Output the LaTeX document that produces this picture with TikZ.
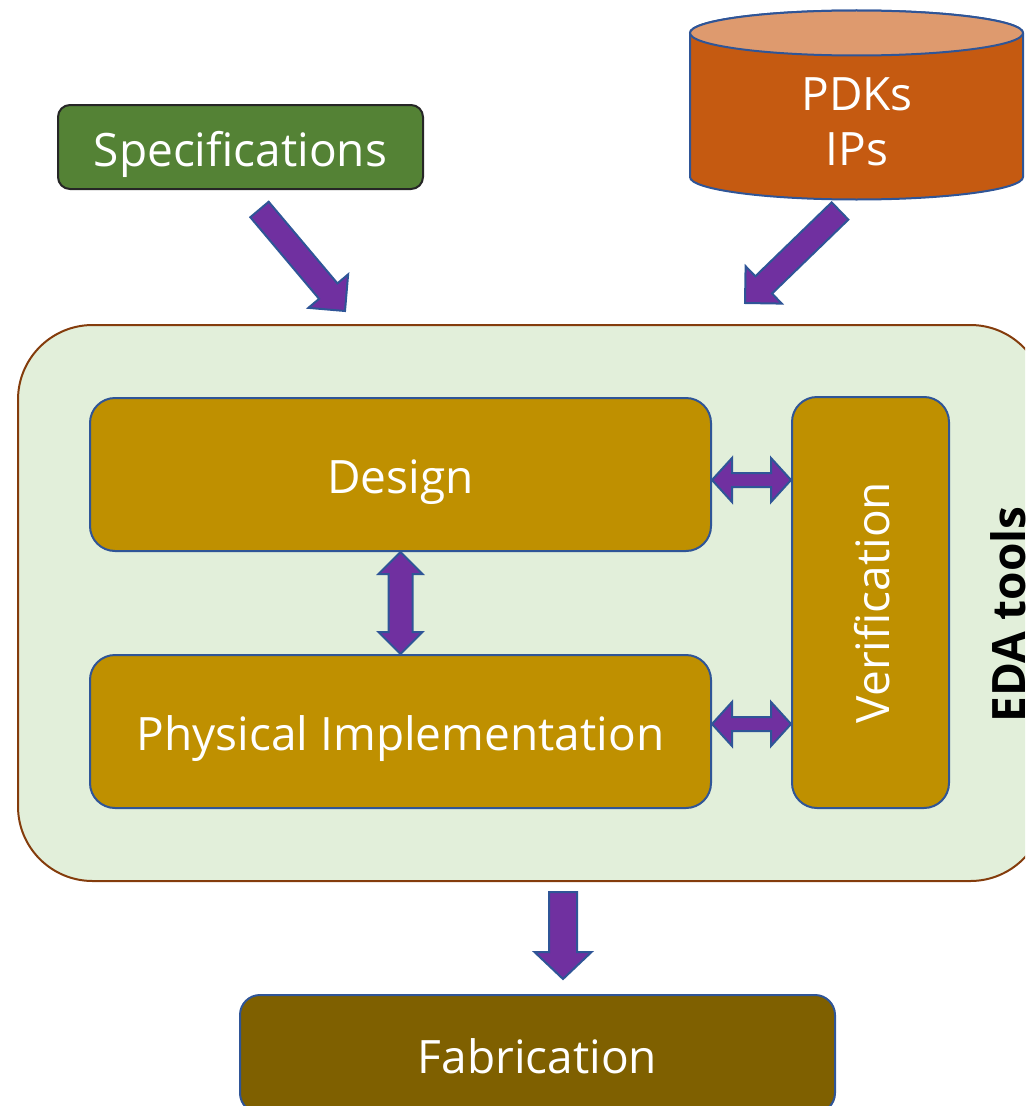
\documentclass[tikz,border=0pt]{standalone}
\usepackage{fontspec}
\setmainfont{Open Sans}
\usetikzlibrary{calc}
\definecolor{specgreen}{HTML}{548235}
\definecolor{pdkbody}{HTML}{C55A11}
\definecolor{pdktop}{HTML}{DE9A6E}
\definecolor{goldfill}{HTML}{BF9000}
\definecolor{fabfill}{HTML}{7F6000}
\definecolor{edabg}{HTML}{E2EFDA}
\definecolor{edaborder}{HTML}{843C0C}
\definecolor{arrowpurple}{HTML}{7030A0}
\definecolor{shapeblue}{HTML}{2F5597}

% single block arrow: tail, tip, half shaft, half head, head length
\newcommand\blkarrow[5]{%
  \coordinate (ba-h) at ($(#2)!#5!(#1)$);
  \draw[blockarrow] ($(#1)!#3!90:(#2)$) -- ($(ba-h)!#3!90:(#2)$) -- ($(ba-h)!#4!90:(#2)$) -- (#2)
    -- ($(ba-h)!#4!-90:(#2)$) -- ($(ba-h)!#3!-90:(#2)$) -- ($(#1)!#3!-90:(#2)$) -- cycle;}
% double block arrow: end A, end B, half shaft, half head, head length
\newcommand\dblarrow[5]{%
  \coordinate (da-a) at ($(#1)!#5!(#2)$);
  \coordinate (da-b) at ($(#2)!#5!(#1)$);
  \draw[blockarrow] (#1) -- ($(da-a)!#4!90:(#2)$) -- ($(da-a)!#3!90:(#2)$) -- ($(da-b)!#3!90:(#2)$)
    -- ($(da-b)!#4!90:(#2)$) -- (#2) -- ($(da-b)!#4!-90:(#2)$) -- ($(da-b)!#3!-90:(#2)$)
    -- ($(da-a)!#3!-90:(#2)$) -- ($(da-a)!#4!-90:(#2)$) -- cycle;}

\tikzset{
  txt/.style={text=white, font=\fontsize{34.5}{41.4}\selectfont, text height=29pt, text depth=0pt, inner sep=0pt},
  rbox/.style={txt, draw=shapeblue, line width=1.5pt, rounded corners=18.75pt},
  specbox/.style={txt, draw=black!85, fill=specgreen, line width=1.5pt, rounded corners=9pt},
  goldbox/.style={rbox, fill=goldfill},
  fabbox/.style={rbox, fill=fabfill, rounded corners=15pt},
  edabox/.style={draw=edaborder, fill=edabg, line width=1.5pt, rounded corners=56pt, inner sep=0pt},
  blockarrow/.style={fill=arrowpurple, draw=shapeblue, line width=1.5pt, line join=miter},
}

\begin{document}
\begin{tikzpicture}[x=0.75pt,y=-0.75pt]
\useasboundingbox (0,0) rectangle (1025,1106);
\clip (0,0) rectangle (1025,1106);

% EDA environment
\node[edabox, minimum width=1027*0.75pt, minimum height=556*0.75pt] (eda) at (531.5,603) {};
\node[rotate=90, anchor=base, font=\fontsize{34.5}{41.4}\selectfont\bfseries, text=black, inner sep=0pt] (edalabel) at (1025.5,614.5) {EDA tools};

% inputs
\node[specbox, minimum width=365*0.75pt, minimum height=84*0.75pt] (spec) at (240.5,147) {Specifications};

\path[draw=shapeblue, fill=pdkbody, line width=1.5pt]
  (690,33) -- (690,177) arc[start angle=180, end angle=360, x radius=124.875pt, y radius=16.875pt]
  -- (1023,33) arc[start angle=0, end angle=180, x radius=124.875pt, y radius=16.875pt] -- cycle;
\draw[fill=pdktop, draw=shapeblue, line width=1.5pt] (856.5,33) ellipse [x radius=124.875pt, y radius=16.875pt];
\node[text=white, font=\fontsize{34.5}{41.4}\selectfont, align=center, inner sep=0pt] (pdk) at (857,122) {PDKs\\IPs};

% inner blocks
\node[goldbox, minimum width=621*0.75pt, minimum height=153*0.75pt] (design) at (400.5,474.5) {Design};
\node[goldbox, minimum width=621*0.75pt, minimum height=153*0.75pt] (phys) at (400.5,731.5) {Physical Implementation};
\node[goldbox, minimum width=157*0.75pt, minimum height=411*0.75pt] (verif) at (870.5,602.5) {};
\node[txt, rotate=90] (veriflabel) at (verif.center) {Verification};

% output
\node[fabbox, minimum width=595*0.75pt, minimum height=118*0.75pt] (fab) at (537.5,1054) {Fabrication};

% arrow anchor points
\coordinate (specA) at (259.5,209.5);
\coordinate (specB) at (345,311);
\coordinate (pdkA) at (840,211);
\coordinate (pdkB) at (745,303);
\coordinate (dvA) at (design.east |- 0,480);
\coordinate (dvB) at (verif.west |- 0,480);
\coordinate (pvA) at (phys.east |- 0,724);
\coordinate (pvB) at (verif.west |- 0,724);
\coordinate (dpA) at (design.south);
\coordinate (dpB) at (phys.north);
\coordinate (fabA) at (563,892);
\coordinate (fabB) at (563,979);

\blkarrow{specA}{specB}{9pt}{19.5pt}{19.5pt}
\blkarrow{pdkA}{pdkB}{9pt}{19.5pt}{19.5pt}
\blkarrow{fabA}{fabB}{10.5pt}{21.4pt}{20.25pt}
\dblarrow{dpA}{dpB}{9pt}{16.5pt}{16.5pt}
\dblarrow{dvA}{dvB}{5.25pt}{16.5pt}{15pt}
\dblarrow{pvA}{pvB}{5.25pt}{16.5pt}{15pt}
\end{tikzpicture}
\end{document}
